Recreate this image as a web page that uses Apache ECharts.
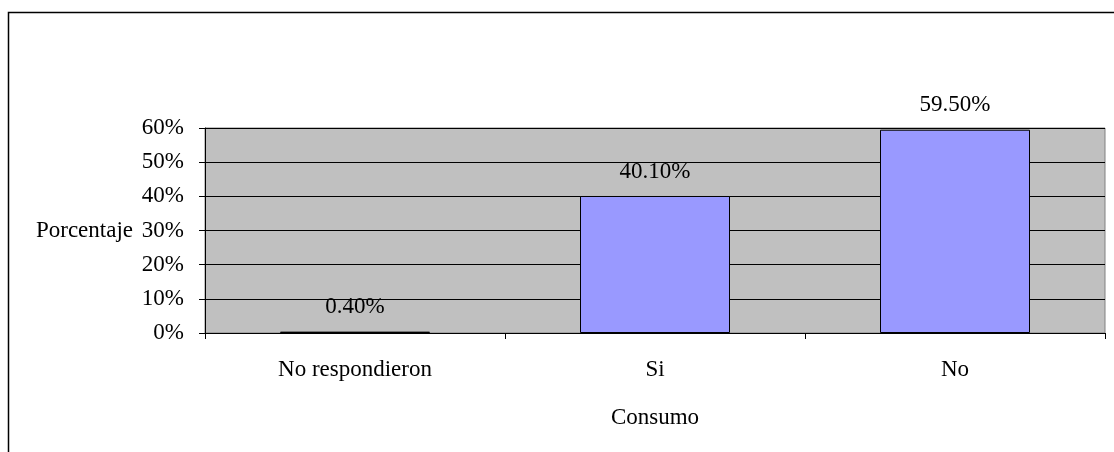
<!DOCTYPE html>
<html>
<head>
<meta charset="utf-8">
<script src="https://cdn.jsdelivr.net/npm/echarts@6/dist/echarts.min.js"></script>
<style>
  html, body { margin: 0; padding: 0; background: #fff; }
  #chart { width: 1114px; height: 452px; }
</style>
</head>
<body>
<div id="chart"></div>
<script>
// datos
const categorias = ["No respondieron", "Si", "No"];
const porcentajes = [0.4, 40.1, 59.5];
const ticksY = [0, 10, 20, 30, 40, 50, 60];

const fuente = "'Liberation Serif', 'Times New Roman', serif";

const chart = echarts.init(document.getElementById("chart"));

const option = {
  animation: false,
  backgroundColor: "#fff",
  textStyle: { fontFamily: fuente, color: "#000" },
  graphic: [
    {
      type: "rect",
      shape: { x: 8.5, y: 12.5, width: 1300, height: 600 },
      style: { fill: "none", stroke: "#000", lineWidth: 1.5 },
      silent: true
    }
  ],
  grid: {
    left: 205,
    right: 9,
    top: 128,
    bottom: 119,
    show: true,
    backgroundColor: "#C0C0C0",
    borderColor: "#808080",
    borderWidth: 1
  },
  xAxis: {
    type: "category",
    data: categorias,
    name: "Consumo",
    nameLocation: "middle",
    nameGap: 73,
    nameTextStyle: { fontFamily: fuente, fontSize: 23, color: "#000" },
    axisLine: { lineStyle: { color: "#000", width: 1 } },
    axisTick: { show: true, length: 6, alignWithLabel: false, lineStyle: { color: "#000" } },
    axisLabel: { fontFamily: fuente, fontSize: 23, color: "#000", margin: 25 },
    splitLine: { show: false }
  },
  yAxis: {
    type: "value",
    min: ticksY[0],
    max: ticksY[ticksY.length - 1],
    interval: 10,
    name: "Porcentaje",
    nameLocation: "middle",
    nameRotate: 0,
    nameGap: 72,
    nameTextStyle: { fontFamily: fuente, fontSize: 23, color: "#000" },
    axisLine: { show: true, lineStyle: { color: "#000", width: 1 } },
    axisTick: { show: true, length: 6, lineStyle: { color: "#000" } },
    axisLabel: {
      fontFamily: fuente, fontSize: 23, color: "#000", margin: 21,
      formatter: (v) => v + "%"
    },
    splitLine: { show: true, lineStyle: { color: "#000", width: 1 } }
  },
  series: [
    {
      type: "bar",
      data: porcentajes,
      barWidth: "50%",
      itemStyle: { color: "#9999FF", borderColor: "#000", borderWidth: 1 },
      label: {
        show: true,
        position: "top",
        distance: 13,
        fontFamily: fuente,
        fontSize: 23,
        color: "#000",
        formatter: (p) => p.value.toFixed(2) + "%"
      }
    }
  ]
};

chart.setOption(option);
</script>
</body>
</html>
